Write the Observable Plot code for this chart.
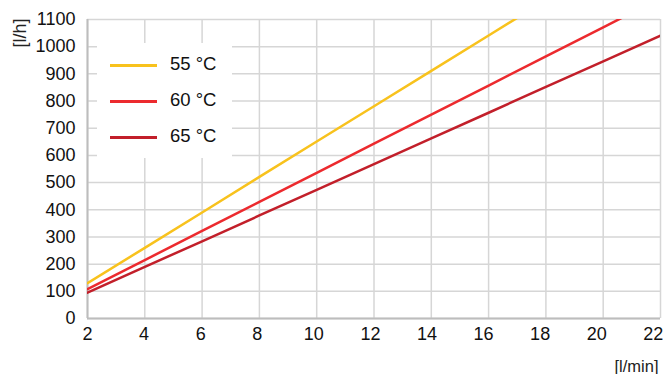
<!DOCTYPE html>
<html><head><meta charset="utf-8">
<script src="https://cdn.jsdelivr.net/npm/d3@7"></script>
<script src="https://cdn.jsdelivr.net/npm/@observablehq/plot@0.6"></script>
<style>
body{margin:0;background:#fff;font-family:"Liberation Sans",Arial,sans-serif;}
#wrap{position:relative;width:664px;height:374px;}
#legend{position:absolute;left:97px;top:43px;width:135px;height:115px;background:#fff;}
.li{position:absolute;left:13px;height:20px;font-size:18.5px;color:#111;}
.li span.sw{position:absolute;left:0;top:9px;width:47px;height:2.5px;}
.li span.t{position:absolute;left:60px;top:-2px;white-space:nowrap;}
</style></head>
<body><div id="wrap"></div>
<script>
const flowLmin = [2, 4, 6, 8, 10, 12, 14, 16, 17, 18, 20, 21, 22];
const series = ["55 °C", "60 °C", "65 °C"];
const colors = ["#f8c21d", "#ec2a2e", "#c21f2a"];
const v55 = [130, 260, 390, 521, 651, 781, 911, 1041, 1106, null, null, null, null];
const v60 = [108, 215, 322, 429, 536, 643, 750, 857, null, 964, 1071, 1125, null];
const v65 = [95, 190, 284, 379, 473, 568, 663, 757, null, 852, 946, null, 1041];
const xTicks = [2, 4, 6, 8, 10, 12, 14, 16, 18, 20, 22];
const yTicks = [0, 100, 200, 300, 400, 500, 600, 700, 800, 900, 1000, 1100];

const rows = [];
[v55, v60, v65].forEach((vals, i) => vals.forEach((v, j) => { if (v != null) rows.push({x: flowLmin[j], y: v, s: series[i]}); }));

const font = '"Liberation Sans", Arial, sans-serif';
const plot = Plot.plot({
  width: 664, height: 374,
  marginLeft: 87, marginRight: 4, marginTop: 19, marginBottom: 56,
  style: {fontFamily: font, fontSize: "18px", color: "#111", background: "#fff"},
  x: {domain: [2, 22], ticks: xTicks, label: null, axis: null},
  y: {domain: [0, 1100], ticks: yTicks, label: null},
  color: {domain: series, range: colors},
  marks: [
    Plot.gridX(xTicks, {stroke: "#d6d6d6", strokeOpacity: 1, strokeWidth: 1.5}),
    Plot.gridY(yTicks, {stroke: "#d6d6d6", strokeOpacity: 1, strokeWidth: 1.5}),
    Plot.ruleX([2], {stroke: "#bdbdbd", strokeWidth: 2}),
    Plot.ruleY([0], {stroke: "#bdbdbd", strokeWidth: 2}),
    Plot.line(rows, {x: "x", y: "y", z: "s", stroke: "s", strokeWidth: 2.5, clip: true}),
    // x tick labels (slightly compressed spacing, as in the original)
    ...xTicks.map((t, i) => Plot.text([t], {x: d => d, frameAnchor: "bottom", dy: 21, dx: -0.72 * i, fontSize: 18, fill: "#111", text: d => String(d)})),
    Plot.axisY(yTicks, {tickSize: 0, tickPadding: 12, fontSize: 18, tickFormat: d3.format("d"), label: null}),
    Plot.text(["[l/min]"], {frameAnchor: "bottom-right", dy: 53, dx: -2, fontSize: 16.5, textAnchor: "end", fill: "#222"}),
    Plot.text(["[l/h]"], {frameAnchor: "top-left", dx: -74, dy: 28, rotate: -90, fontSize: 18, fill: "#222"})
  ]
});
const wrap = document.getElementById("wrap");
wrap.appendChild(plot);
const lg = document.createElement("div");
lg.id = "legend";
series.forEach((s, i) => {
  const d = document.createElement("div");
  d.className = "li";
  d.style.top = (12 + i * 36) + "px";
  d.innerHTML = `<span class="sw" style="background:${colors[i]}"></span><span class="t">${s}</span>`;
  lg.appendChild(d);
});
wrap.appendChild(lg);
</script></body></html>
